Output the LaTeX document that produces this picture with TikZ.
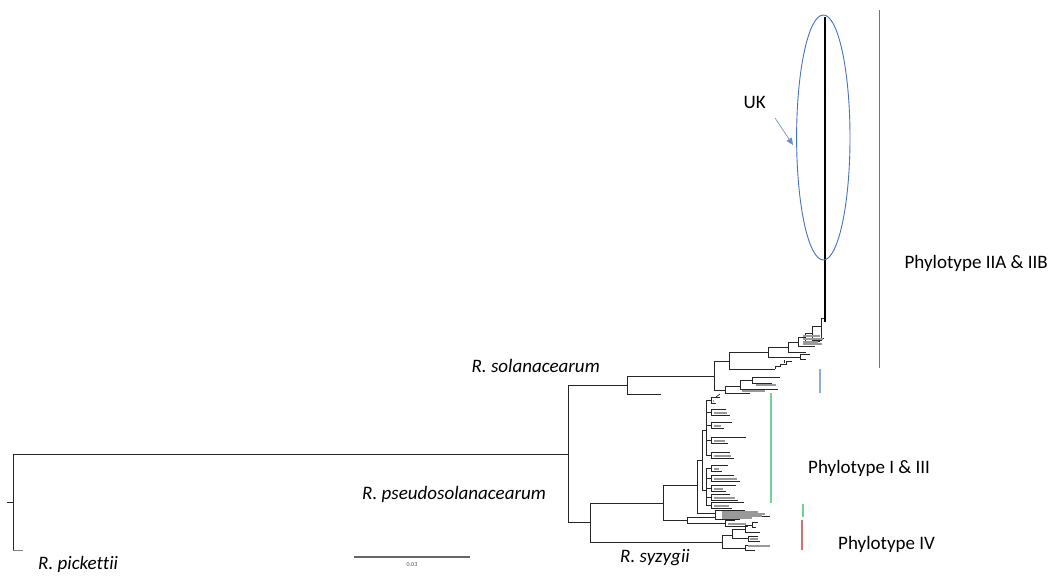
\documentclass[tikz,border=0pt]{standalone}
\usepackage{fontspec}
\setmainfont{Carlito}[Ligatures=NoCommon]
\usetikzlibrary{arrows.meta}

\definecolor{ukblue}{RGB}{68,114,196}
\definecolor{iiline}{RGB}{88,118,182}
\definecolor{iibar}{RGB}{143,170,220}
\definecolor{ibar}{RGB}{112,210,150}
\definecolor{ivbar}{RGB}{220,110,110}

\tikzset{
  branch/.style={line width=0.7pt, black!85},
  tip/.style={line width=1.1pt, black!40},
  trunk/.style={line width=1.8pt, black},
  bar/.style={line width=1.2pt},
  label/.style={font=\fontsize{19}{22}\selectfont, inner sep=0pt},
  species/.style={font=\fontsize{19}{22}\selectfont\itshape, inner sep=0pt},
}

\begin{document}
\begin{tikzpicture}[x=1pt,y=-1pt]
\useasboundingbox (0,0) rectangle (1052,581);

    % Root and outgroup
    \draw[branch] (7,502) -- (13,502);
    \draw[branch] (568,454) -| (13,550);
    \draw[branch, black!50, line width=1pt] (13,550) -- (23,550);

    % Backbone of the tree
    \draw[branch] (627,385) -| (568,522) -- (590,522);
    \draw[branch] (714,376) -| (627,394) -- (661,394);
    \draw[branch] (729,361) -| (714,390) -- (725,390);
    \draw[branch] (768,352) -| (729,369) -- (775,369);
    \draw[branch] (788,347) -| (768,357) -- (800,357);

    % Small clades below phylotype II
    \draw[branch] (740,386) -| (725,393) -- (750,393);
    \draw[branch] (752,380) -| (740,389) -- (778,389);
    \draw[branch] (780,377) -| (752,383) -- (772,383);
    \draw[tip] (742,391) -- (765,391);
    \draw[tip] (756,385) -- (776,385);
    \draw[branch] (775,369) -- (775,366) -- (780,366) -- (780,364) -- (786,364) -- (786,361) -- (792,361);
    \draw[branch] (784,363) -- (784,360);
    \draw[branch] (810,354) -| (800,359) -- (806,359);

    % Ladder up to the UK clade
    \draw[branch] (798,342) -| (788,352) -- (806,352);
    \draw[branch] (805,337) -| (798,346) -- (815,346);
    \draw[branch] (812,333) -| (805,341) -- (820,341);
    \draw[branch] (821,326) -| (812,340) -- (822,340);
    \draw[branch] (825,318) -| (821,338) -- (824,338);
    \foreach \y/\l in {344/822, 342/818, 339/823, 336/820} {
      \draw[tip] (803,\y) -- (\l,\y);
    }
    \draw[trunk] (825,17) -- (825,322);

    % R. pseudosolanacearum and R. syzygii
    \draw[branch] (663,503) -| (590,542) -- (722,542);
    \draw[branch] (697,485) -| (663,520) -- (687,520);
    \draw[branch] (702,460) -| (697,513) -- (715,513);
    \draw[branch] (715,517) -| (687,523) -- (725,523);

    % Phylotype I
    \draw[branch] (706,430) -| (702,490) -- (706,490);
    \draw[branch] (706,400) -- (706,455);
    \draw[branch] (706,468) -- (706,505);
    \foreach \y/\a/\b in {400/720/716, 412/726/730, 425/732/724, 440/746/728, 455/730/734,
                          468/728/722, 478/734/740, 488/736/726, 497/730/738, 505/744/732} {
      \draw[branch] (706,\y) -- (711,\y);
      \draw[branch] ({\a},{\y-3}) -| (711,{\y+3}) -- ({\b},{\y+3});
      \draw[tip] (714,{\y+1}) -- ({\b-3},{\y+1});
    }
    \draw[branch] (716,397) -- (720,394);

    % Phylotype III
    \draw[branch] (715,510) -- (715,519);
    \draw[branch] (715,510) -- (745,510);
    \draw[branch] (715,519) -- (740,519);
    \draw[branch] (735,516.5) -- (770,516.5);
    \foreach \y/\l in {512/758, 514/765, 516/762, 518/752} {
      \draw[tip] (722,\y) -- (\l,\y);
    }
    \draw[branch] (735,520) -| (725,526) -- (748,526);
    \draw[tip] (728,524) -- (746,524);

    % Phylotype IV
    \draw[branch] (732,535) -| (722,548) -- (745,548);
    \draw[branch] (745,529) -| (732,538) -- (748,538);
    \draw[branch] (752,525) -| (745,532) -- (760,532);
    \draw[branch] (758,522) -| (752,527) -- (756,527);
    \draw[branch] (758,536) -| (748,541) -- (760,541);
    \draw[branch] (760,545) -| (745,550) -- (755,550);
    \draw[tip] (748,546) -- (770,546);
    \draw[tip] (750,539) -- (758,539);

    % Clade bars
    \draw[iiline, line width=0.8pt] (879,10) -- (879,368);
    \draw[bar, iibar] (820,369) -- (820,393);
    \draw[bar, ibar] (771,393) -- (771,503);
    \draw[bar, ibar] (803,504) -- (803,517);
    \draw[bar, ivbar] (802,520) -- (802,550);

    % UK clade marker
    \draw[ukblue, line width=0.9pt] (823.3,137.5) ellipse [x radius=26.7pt, y radius=122.5pt];
    \node[label, anchor=base east] (uk) at (766,108) {UK};
    \coordinate (ukfrom) at (775,118);
    \coordinate (ukto) at (793,145);
    \draw[ukblue!80, line width=0.6pt, -{Triangle[length=7pt,width=6pt]}] (ukfrom) -- (ukto);

    % Phylotype labels
    \node[label, anchor=base east] (phIIAB) at (1048,268) {Phylotype IIA \& IIB};
    \node[label, anchor=base west] (phIIII) at (808,473) {Phylotype I \& III};
    \node[label, anchor=base west] (phIV) at (838,549) {Phylotype IV};

    % Species labels
    \node[species, anchor=base east] (solan) at (600,372) {R. solanacearum};
    \node[species, anchor=base west] (pseudo) at (362,499) {R. pseudosolanacearum};
    \node[species, anchor=base west] (syzy) at (620,562) {R. syzygii};
    \node[species, anchor=base west] (pick) at (38,569) {R. pickettii};

    % Scale bar
    \draw[black!60, line width=1.2pt] (354,557) -- (470,557);
    \node[font=\fontsize{6}{7}\selectfont, text=black!70, inner sep=0pt] (scale) at (412,565) {0.03};

\end{tikzpicture}
\end{document}
